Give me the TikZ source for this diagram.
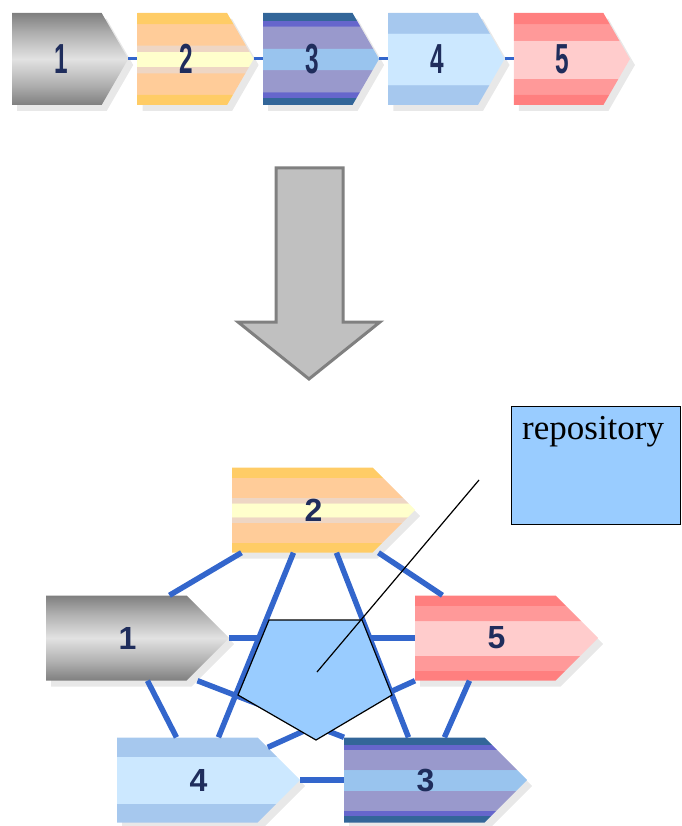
\documentclass[tikz,border=0pt]{standalone}
\usepackage{fontspec}
\setmainfont{Liberation Serif}
\setsansfont{Liberation Sans}
\usetikzlibrary{positioning,shapes.symbols,shadows}

\definecolor{digit}{HTML}{1F2D5C}
\definecolor{linkblue}{HTML}{3366CC}
\definecolor{repoblue}{HTML}{99CCFF}
\definecolor{arrowgray}{HTML}{C0C0C0}
\definecolor{arrowedge}{HTML}{808080}
\definecolor{gdark}{HTML}{7F7F7F}
\definecolor{gmid}{HTML}{B0B0B0}
\definecolor{glight}{HTML}{E2E2E2}
\definecolor{oA}{HTML}{FFCC66}
\definecolor{oB}{HTML}{FFCC99}
\definecolor{oC}{HTML}{EED6C4}
\definecolor{oD}{HTML}{FFFFCC}
\definecolor{pA}{HTML}{336699}
\definecolor{pB}{HTML}{6666CC}
\definecolor{pC}{HTML}{9999CC}
\definecolor{pD}{HTML}{99C4EE}
\definecolor{lA}{HTML}{A6C8EE}
\definecolor{lB}{HTML}{CCE8FF}
\definecolor{rA}{HTML}{FF7F7F}
\definecolor{rB}{HTML}{FF9999}
\definecolor{rC}{HTML}{FFCCCC}

% striped fills, the path sits between 25bp and 75bp
\pgfdeclareverticalshading{grayband}{100bp}{color(0bp)=(gdark); color(25bp)=(gdark);
  color(36bp)=(gmid); color(50bp)=(glight); color(64bp)=(gmid); color(75bp)=(gdark); color(100bp)=(gdark)}
\pgfdeclareverticalshading{orangeband}{100bp}{color(0bp)=(oA); color(31bp)=(oA); color(31bp)=(oB);
  color(42.5bp)=(oB); color(42.5bp)=(oC); color(46bp)=(oC); color(46bp)=(oD); color(54bp)=(oD);
  color(54bp)=(oC); color(57.5bp)=(oC); color(57.5bp)=(oB); color(69bp)=(oB); color(69bp)=(oA); color(100bp)=(oA)}
\pgfdeclareverticalshading{purpleband}{100bp}{color(0bp)=(pA); color(29bp)=(pA); color(29bp)=(pB);
  color(32bp)=(pB); color(32bp)=(pC); color(44bp)=(pC); color(44bp)=(pD); color(56bp)=(pD);
  color(56bp)=(pC); color(68bp)=(pC); color(68bp)=(pB); color(71bp)=(pB); color(71bp)=(pA); color(100bp)=(pA)}
\pgfdeclareverticalshading{lightband}{100bp}{color(0bp)=(lA); color(36bp)=(lA); color(36bp)=(lB);
  color(64bp)=(lB); color(64bp)=(lA); color(100bp)=(lA)}
\pgfdeclareverticalshading{redband}{100bp}{color(0bp)=(rA); color(31bp)=(rA); color(31bp)=(rB);
  color(39.5bp)=(rB); color(39.5bp)=(rC); color(60bp)=(rC); color(60bp)=(rB); color(69bp)=(rB);
  color(69bp)=(rA); color(100bp)=(rA)}

\newcommand{\slimdigit}[1]{\hspace*{8pt}\scalebox{0.58}[1]{#1}}
\newcommand{\pushdigit}[1]{\hspace*{22pt}#1}

\begin{document}
\begin{tikzpicture}[x=1pt,y=-1pt,
    stage/.style={signal, signal to=east, shade, inner sep=0pt, text=digit, anchor=west,
      font=\sffamily\bfseries\fontsize{32}{32}\selectfont,
      drop shadow={fill=black!18, shadow xshift=5pt, shadow yshift=-6pt}},
    toparrow/.style={stage, minimum width=116pt, minimum height=92pt, signal pointer angle=120,
      font=\sffamily\bfseries\fontsize{42}{42}\selectfont},
    botarrow/.style={stage, minimum width=183pt, minimum height=85pt, signal pointer angle=90},
    link/.style={draw=linkblue, line width=5.5pt},
    toplink/.style={draw=linkblue, line width=3pt}]
  \useasboundingbox (0,0) rectangle (681,826);

  % the chain
  \node[toparrow, shading=grayband] (t1) at (12,59) {\slimdigit{1}};
  \node[toparrow, shading=orangeband, right=9pt of t1] (t2) {\slimdigit{2}};
  \node[toparrow, shading=purpleband, right=9pt of t2] (t3) {\slimdigit{3}};
  \node[toparrow, shading=lightband, right=9pt of t3] (t4) {\slimdigit{4}};
  \node[toparrow, shading=redband, right=9pt of t4] (t5) {\slimdigit{5}};
  \draw[toplink] (t1.east) -- (t2.west);
  \draw[toplink] (t2.east) -- (t3.west);
  \draw[toplink] (t3.east) -- (t4.west);
  \draw[toplink] (t4.east) -- (t5.west);

  % big arrow down
  \draw[fill=arrowgray, draw=arrowedge, line width=3pt, line join=miter]
    (276,168) -- (343,168) -- (343,322) -- (380,322) -- (309,379) -- (238,322) -- (276,322) -- cycle;

  % the network
  \node[botarrow, shading=orangeband] (b2) at (232,510) {\pushdigit{2}};
  \node[botarrow, shading=grayband] (b1) at (46,638) {\pushdigit{1}};
  \node[botarrow, shading=redband] (b5) at (415,638) {\pushdigit{5}};
  \node[botarrow, shading=lightband] (b4) at (117,780) {\pushdigit{4}};
  \node[botarrow, shading=purpleband] (b3) at (344,780) {\pushdigit{3}};

  \draw[link] ([xshift=-61pt]b2.south) -- ([xshift=53pt]b1.north);
  \draw[link] ([xshift=-9pt]b2.south) -- ([xshift=31pt]b4.north);
  \draw[link] ([xshift=34pt]b2.south) -- ([xshift=-6pt]b3.north);
  \draw[link] ([xshift=76pt]b2.south) -- ([xshift=-43pt]b5.north);
  \draw[link] (b1.east) -- (b5.west);
  \draw[link] ([xshift=81pt]b1.south) -- (b3.north west);
  \draw[link] ([xshift=31pt]b1.south) -- ([xshift=-11pt]b4.north);
  \draw[link] (b5.south west) -- ([xshift=10pt,yshift=-10pt]b4.north east);
  \draw[link] ([xshift=-16pt]b5.south) -- ([xshift=30pt]b3.north);
  \draw[link] (b4.east) -- (b3.west);

  % repository in the middle
  \coordinate (pent) at (317,672);
  \draw[fill=repoblue, line width=1.2pt, line join=miter]
    (269,620) -- (362,620) -- (392,695) -- (316,740) -- (238,695) -- cycle;

  \node[draw, fill=repoblue, line width=1.2pt, anchor=north west,
    minimum width=169pt, minimum height=118pt,
    label={[anchor=north west, inner sep=0pt, xshift=11pt, yshift=-10pt,
      font=\fontsize{35}{35}\selectfont]north west:repository}] (repo) at (511,406) {};
  \coordinate (lead) at (479,480);
  \draw[line width=1.2pt] (lead) -- (pent);
\end{tikzpicture}
\end{document}
